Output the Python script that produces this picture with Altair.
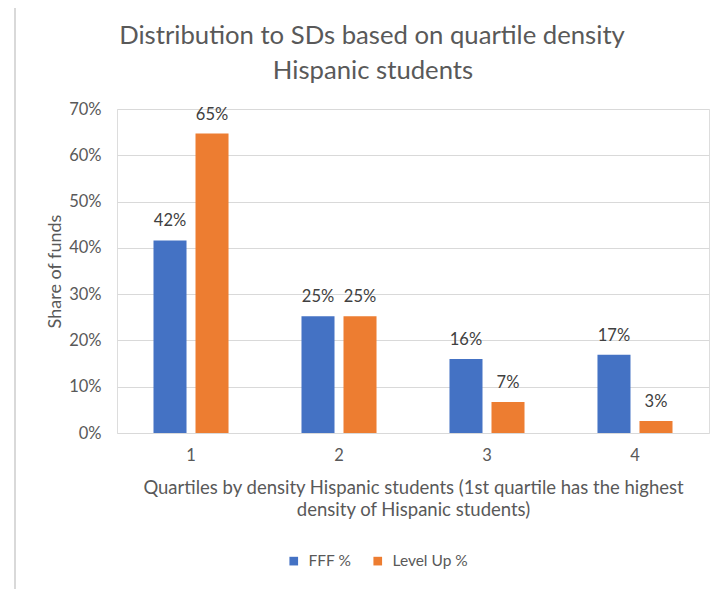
import altair as alt
import pandas as pd

quartiles = ["1", "2", "3", "4"]
series_names = ["FFF %", "Level Up %"]
fff_values = [0.416, 0.252, 0.160, 0.169]
levelup_values = [0.647, 0.252, 0.067, 0.026]
y_ticks = [0, 0.1, 0.2, 0.3, 0.4, 0.5, 0.6, 0.7]
colors = ["#4472C4", "#ED7D31"]
title_lines = ["Distribution to SDs based on quartile density", "Hispanic students"]
x_title_lines = ["Quartiles by density Hispanic students (1st quartile has the highest",
                 "density of Hispanic students)"]
y_title = "Share of funds"

rows = []
for q, f, l in zip(quartiles, fff_values, levelup_values):
    rows.append({"quartile": q, "series": series_names[0], "value": f})
    rows.append({"quartile": q, "series": series_names[1], "value": l})
df = pd.DataFrame(rows)

FONT = "Lato"
TEXT = "#595959"
GRID = "#D9D9D9"

x_enc = alt.X(
    "quartile:N", sort=quartiles,
    scale=alt.Scale(paddingInner=0.493, paddingOuter=0.2466),
    axis=alt.Axis(
        title=x_title_lines, labelAngle=0, ticks=False, domain=False,
        labelPadding=14, labelFontSize=16.5, labelColor=TEXT, labelFont=FONT,
        titleFont=FONT, titleFontSize=18.5, titleColor=TEXT, titleFontWeight="normal",
        titleX=296, titleY=60, titleAlign="center", titleBaseline="alphabetic",
        titleLineHeight=22,
    ),
)
xoff_enc = alt.XOffset("series:N", sort=series_names,
                       scale=alt.Scale(paddingInner=0.214, paddingOuter=0))
y_enc = alt.Y(
    "value:Q",
    scale=alt.Scale(domain=[0, 0.7], nice=False),
    axis=alt.Axis(
        values=y_ticks, format=".0%", ticks=False, domain=False,
        gridColor=GRID, gridWidth=1, labelPadding=16,
        labelFontSize=16.5, labelColor=TEXT, labelFont=FONT,
        title=y_title, titleFont=FONT, titleFontSize=18, titleColor=TEXT,
        titleFontWeight="normal", titleX=-62, titleY=162,
        titleAlign="center", titleBaseline="middle", titleAngle=-90,
    ),
)

base = alt.Chart(df)

bars = base.mark_bar().encode(
    x=x_enc,
    xOffset=xoff_enc,
    y=y_enc,
    color=alt.Color(
        "series:N", sort=series_names,
        scale=alt.Scale(domain=series_names, range=colors),
        legend=alt.Legend(
            title=None, orient="none", direction="horizontal",
            legendX=169, legendY=444, symbolType="square", symbolSize=75,
            symbolStrokeWidth=0, labelFont=FONT, labelFontSize=15.5,
            labelColor=TEXT, columnPadding=18, labelOffset=7,
        ),
    ),
)

labels = base.mark_text(
    dy=-14, baseline="alphabetic", fontSize=16.5, font=FONT, color="#404040"
).encode(
    x=alt.X("quartile:N", sort=quartiles),
    xOffset=alt.XOffset("series:N", sort=series_names),
    y=alt.Y("value:Q"),
    text=alt.Text("value:Q", format=".0%"),
)

frame_df = pd.DataFrame({"k": [0]})
left_border = alt.Chart(frame_df).mark_rule(color=GRID, strokeWidth=2).encode(
    x=alt.value(-102), y=alt.value(-106), y2=alt.value(490)
)
top_border = alt.Chart(frame_df).mark_rule(color=GRID, strokeWidth=2).encode(
    x=alt.value(-102), x2=alt.value(610), y=alt.value(-106)
)
title_1 = alt.Chart(frame_df).mark_text(
    font=FONT, fontSize=25.7, color=TEXT, align="center", baseline="alphabetic"
).encode(x=alt.value(255), y=alt.value(-65), text=alt.value(title_lines[0]))
title_2 = alt.Chart(frame_df).mark_text(
    font=FONT, fontSize=25.7, color=TEXT, align="center", baseline="alphabetic"
).encode(x=alt.value(256), y=alt.value(-30), text=alt.value(title_lines[1]))

chart = alt.layer(left_border, top_border, title_1, title_2, bars, labels).properties(
    width=592, height=324,
    padding={"left": 109, "top": 101, "right": 6, "bottom": 170},
    autosize=alt.AutoSizeParams(type="none"),
).configure_view(stroke=None).configure(background="white")

chart.save("out.html", embed_options={"renderer": "svg", "actions": False})
